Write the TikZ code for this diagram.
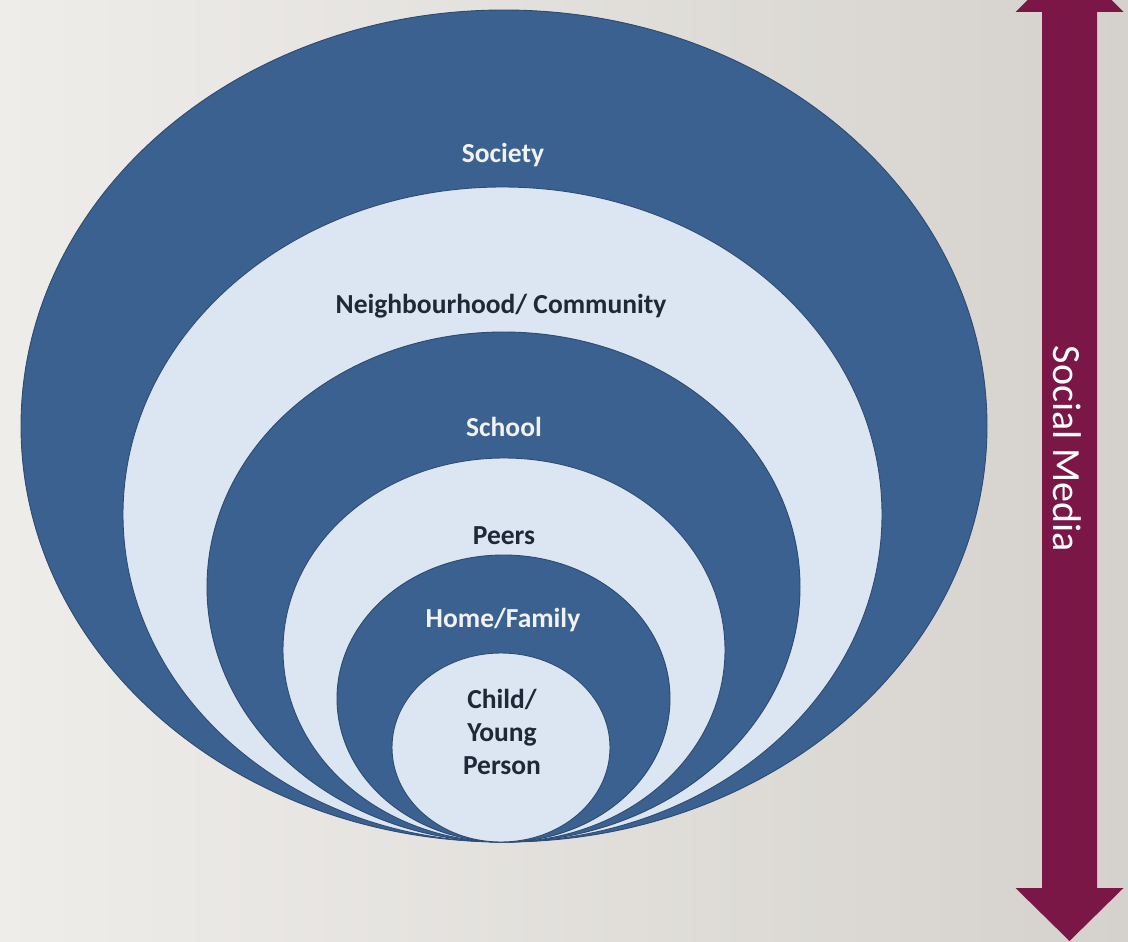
\documentclass[tikz,border=0pt]{standalone}
\usepackage{fontspec}
\setmainfont{Carlito}
\usetikzlibrary{shapes.geometric}
\definecolor{bgL}{HTML}{EFEDEA}
\definecolor{bgR}{HTML}{D5D2CD}
\definecolor{ringdark}{HTML}{3B6190}
\definecolor{ringlight}{HTML}{DCE6F2}
\definecolor{ringedge}{HTML}{2C4A72}
\definecolor{arrowmaroon}{HTML}{7B1746}
\definecolor{darktext}{HTML}{1E2836}
\definecolor{lighttext}{HTML}{F2F2F2}
\begin{document}
\begin{tikzpicture}[x=1pt,y=-1pt,
  ring/.style={ellipse, draw=ringedge, line width=0.9pt, inner sep=0pt, outer sep=0pt},
  darkring/.style={ring, fill=ringdark},
  lightring/.style={ring, fill=ringlight},
  lbl/.style={font=\fontsize{27.5}{33}\selectfont\bfseries, align=center, inner sep=0pt, anchor=base},
  onDark/.style={lbl, text=lighttext},
  onLight/.style={lbl, text=darktext},
  sidelbl/.style={font=\fontsize{40}{42}\selectfont, text=white, inner sep=0pt, anchor=base, rotate=-90}]
\useasboundingbox (0,0) rectangle (1128,942);
\clip (0,0) rectangle (1128,942);
\shade[left color=bgL, right color=bgR] (0,0) rectangle (1128,942);

% nested rings, all touching at the bottom
\node[darkring,  minimum width=966pt, minimum height=832pt] (society) at (504,426) {};
\node[lightring, minimum width=759pt, minimum height=655pt] (neigh)   at (502.5,514.5) {};
\node[darkring,  minimum width=593pt, minimum height=510pt] (school)  at (503.5,587) {};
\node[lightring, minimum width=442pt, minimum height=384pt] (peers)   at (504,650) {};
\node[darkring,  minimum width=333pt, minimum height=287pt] (home)    at (503.5,698.5) {};
\node[lightring, minimum width=218pt, minimum height=189pt] (child)   at (501,747.5) {};

% labels
\node[onDark]  (societyl) at (503,162) {Society};
\node[onLight] (neighl)   at (501,313) {Neighbourhood/ Community};
\node[onDark]  (schooll)  at (504,436) {School};
\node[onLight] (peersl)   at (504,544) {Peers};
\node[onDark]  (homel)    at (503,627) {Home/Family};
\node[onLight] (childl)   at (502,774) {Child/\\Young\\Person};

% double-headed arrow
\fill[arrowmaroon] (1069.5,-42) -- (1123.5,12) -- (1097,12) -- (1097,888) -- (1123.5,888)
  -- (1069.5,941) -- (1015.5,888) -- (1042,888) -- (1042,12) -- (1015.5,12) -- cycle;
\node[sidelbl] (social) at (1053,449) {Social Media};
\end{tikzpicture}
\end{document}
